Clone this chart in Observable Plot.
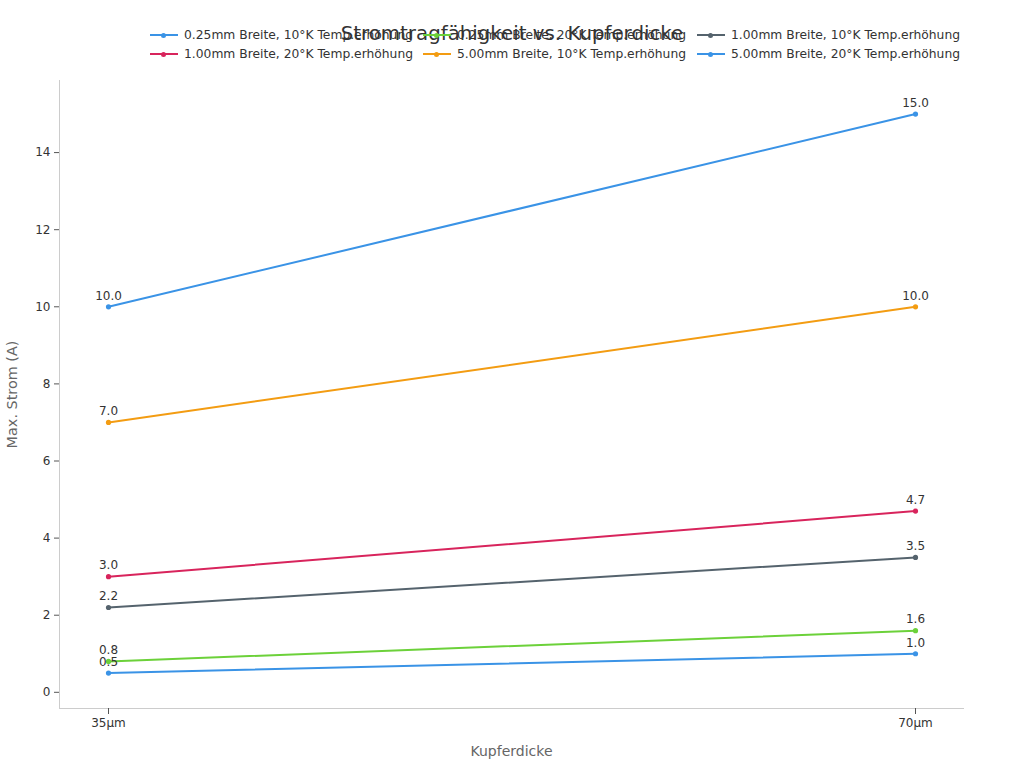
<!DOCTYPE html>
<html><head><meta charset="utf-8">
<script src="https://cdn.jsdelivr.net/npm/d3@7"></script>
<script src="https://cdn.jsdelivr.net/npm/@observablehq/plot@0.6"></script>
<style>
body{margin:0;background:#fff;font-family:"DejaVu Sans",sans-serif;}
#wrap{position:relative;width:1024px;height:768px;}
#title{position:absolute;left:0;width:1024px;top:22px;text-align:center;font-size:19.8px;color:#333;}
.leg{position:absolute;font-size:12.3px;color:#333;display:flex;align-items:center;white-space:nowrap;}
.sw{position:relative;width:28px;height:10px;margin-right:6px;}
.sw .l{position:absolute;left:0;right:0;top:4px;height:2px;}
.sw .d{position:absolute;left:11px;top:2.5px;width:5px;height:5px;border-radius:50%;}
</style></head>
<body><div id="wrap"></div>
<script>
const thickness = ["35µm", "70µm"];
const seriesNames = [
  "0.25mm Breite, 10°K Temp.erhöhung",
  "0.25mm Breite, 20°K Temp.erhöhung",
  "1.00mm Breite, 10°K Temp.erhöhung",
  "1.00mm Breite, 20°K Temp.erhöhung",
  "5.00mm Breite, 10°K Temp.erhöhung",
  "5.00mm Breite, 20°K Temp.erhöhung"
];
const w025t10 = [0.5, 1.0];
const w025t20 = [0.8, 1.6];
const w100t10 = [2.2, 3.5];
const w100t20 = [3.0, 4.7];
const w500t10 = [7.0, 10.0];
const w500t20 = [10.0, 15.0];
const colors = ["#3a93e6", "#6cd13a", "#55636d", "#d8245c", "#f39c12", "#3a93e6"];
const yTicks = [0, 2, 4, 6, 8, 10, 12, 14];

const allSeries = [w025t10, w025t20, w100t10, w100t20, w500t10, w500t20];
const data = [];
allSeries.forEach((vals, i) => vals.forEach((v, j) => data.push({s: seriesNames[i], si: i, x: thickness[j], y: v})));

const chart = Plot.plot({
  width: 1024, height: 768,
  marginTop: 80, marginLeft: 59, marginRight: 61, marginBottom: 60,
  style: {fontFamily: "DejaVu Sans, sans-serif", fontSize: "12px", color: "#333", background: "#fff"},
  x: {type: "point", domain: thickness, padding: 0.06, label: null},
  y: {domain: [-0.42, 15.87], label: null},
  color: {domain: seriesNames, range: colors},
  marks: [
    Plot.frame({anchor: "left", stroke: "#ccc"}),
    Plot.frame({anchor: "bottom", stroke: "#ccc"}),
    Plot.axisY({ticks: yTicks, tickSize: 5, tickPadding: 4, stroke: "#555", fill: "#333", fontSize: 12, label: null}),
    Plot.axisX({tickSize: 6, tickPadding: 4, stroke: "#555", fill: "#333", fontSize: 12, label: null}),
    Plot.line(data, {x: "x", y: "y", z: "s", stroke: "s", strokeWidth: 2}),
    Plot.dot(data, {x: "x", y: "y", fill: "s", r: 2.6}),
    Plot.text(data, {x: "x", y: "y", text: d => d.y.toFixed(1), dy: -11, fill: "#333", fontSize: 12}),
    Plot.text(["Kupferdicke"], {frameAnchor: "bottom", dy: 47, fill: "#666", fontSize: 14}),
    Plot.text(["Max. Strom (A)"], {frameAnchor: "left", dx: -47, rotate: -90, textAnchor: "middle", fill: "#666", fontSize: 14.4})
  ]
});
const wrap = document.getElementById("wrap");
wrap.appendChild(chart);

const title = document.createElement("div");
title.id = "title";
title.textContent = "Stromtragfähigkeit vs. Kupferdicke";
wrap.appendChild(title);

const colX = [150, 423, 697];
const rowY = [28, 47];
seriesNames.forEach((n, i) => {
  const el = document.createElement("div");
  el.className = "leg";
  el.style.left = colX[i % 3] + "px";
  el.style.top = rowY[Math.floor(i / 3)] + "px";
  el.innerHTML = `<span class="sw"><span class="l" style="background:${colors[i]}"></span><span class="d" style="background:${colors[i]}"></span></span><span>${n}</span>`;
  wrap.appendChild(el);
});
</script></body></html>
